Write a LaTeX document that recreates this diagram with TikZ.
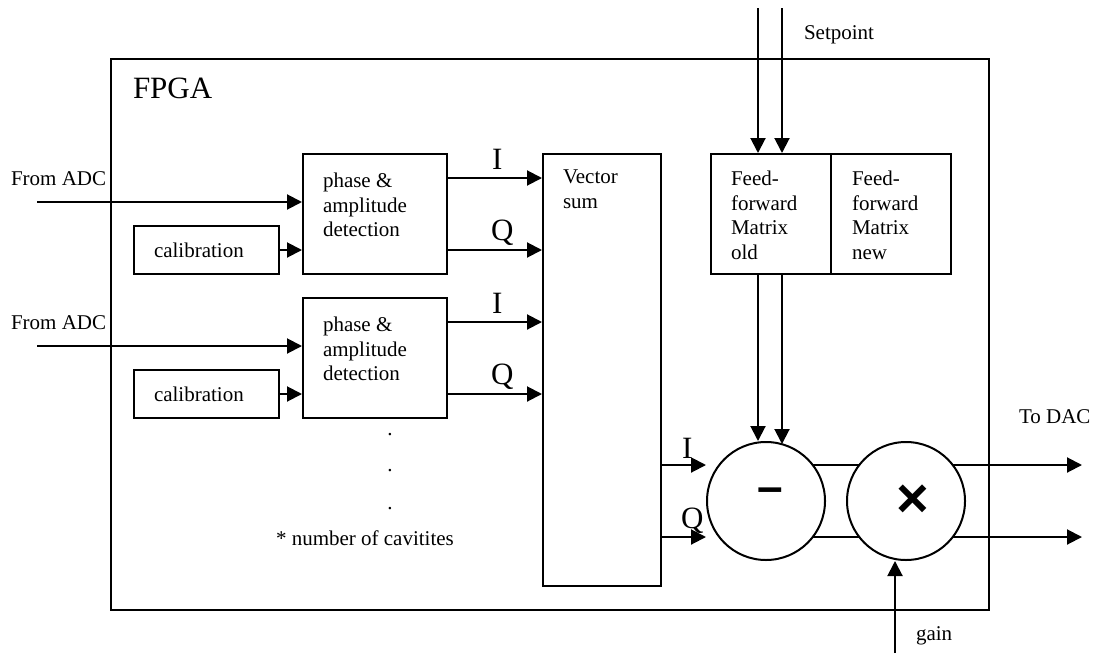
\documentclass[tikz,border=0pt]{standalone}
\usepackage{fontspec}
\setmainfont{Liberation Serif}
\newfontfamily\symfont{Liberation Sans}
\usetikzlibrary{arrows.meta,calc}
\begin{document}
\begin{tikzpicture}[x=1pt,y=-1pt,
  line width=2pt,
  arr/.style={-{Triangle[length=15pt,width=15pt]}},
  box/.style={draw, rectangle, inner sep=0pt, line width=2pt, anchor=north west},
  txt/.style={inner sep=0pt, font=\fontsize{21}{24.5}\selectfont, align=left},
  big/.style={inner sep=0pt, font=\fontsize{31}{36}\selectfont},
  calbox/.style={box, minimum height=48pt, text width=105pt, inner xsep=20pt, align=left, font=\fontsize{21}{25}\selectfont},
  op/.style={draw, circle, minimum size=118pt, inner sep=0pt},
  ]
\useasboundingbox (0,0) rectangle (1094,653);
% FPGA frame
\node[box, minimum width=878pt, minimum height=551pt] (fpga) at (110,58) {};
\node[big, anchor=base west] (fpgat) at (132,98) {FPGA};
% channel 1
\node[box, minimum width=144pt, minimum height=120pt] (p1) at (302,153) {};
\node[txt, anchor=north west] (p1t) at ($(p1.north west)+(20,19)$) {phase \&\\amplitude\\detection};
\node[calbox] (cal1) at (133,225) {calibration};
% channel 2
\node[box, minimum width=144pt, minimum height=120pt] (p2) at (302,297) {};
\node[txt, anchor=north west] (p2t) at ($(p2.north west)+(20,19)$) {phase \&\\amplitude\\detection};
\node[calbox] (cal2) at (133,369) {calibration};
% vector sum
\node[box, minimum width=118pt, minimum height=432pt] (vs) at (542,153) {};
\node[txt, anchor=north west] (vst) at ($(vs.north west)+(20,16)$) {Vector\\sum};
% feed-forward
\node[box, minimum width=120pt, minimum height=120pt] (ffo) at (710,153) {};
\node[box, minimum width=120pt, minimum height=120pt] (ffn) at (830,153) {};
\node[txt, anchor=north west] (ffot) at ($(ffo.north west)+(20,17)$) {Feed-\\forward\\Matrix\\old};
\node[txt, anchor=north west] (ffnt) at ($(ffn.north west)+(21,17)$) {Feed-\\forward\\Matrix\\new};
% operators
\node[op] (m1) at (766,501) {};
\node[op] (m2) at (906,501) {};
\node[inner sep=0pt, font=\symfont\bfseries\fontsize{46}{46}\selectfont] (minus) at (770,495) {–};
\node[inner sep=0pt, font=\symfont\bfseries\fontsize{56}{56}\selectfont] (times) at (913,501) {×};
% inputs from ADC
\coordinate (adc1) at (37,202);
\coordinate (adc2) at (37,346);
\draw[arr] (adc1) -- (adc1 -| p1.west);
\draw[arr] (adc2) -- (adc2 -| p2.west);
\node[txt, anchor=base west] (fa1) at (10,185) {From ADC};
\node[txt, anchor=base west] (fa2) at (10,329) {From ADC};
\draw[arr] (cal1.east) -- (cal1.east -| p1.west);
\draw[arr] (cal2.east) -- (cal2.east -| p2.west);
% I/Q to vector sum
\draw[arr] ($(p1.north east)+(0,25)$) coordinate (p1i) -- (p1i -| vs.west);
\draw[arr] ($(p1.north east)+(0,97)$) coordinate (p1q) -- (p1q -| vs.west);
\draw[arr] ($(p2.north east)+(0,25)$) coordinate (p2i) -- (p2i -| vs.west);
\draw[arr] ($(p2.north east)+(0,97)$) coordinate (p2q) -- (p2q -| vs.west);
\node[big, anchor=base west] (l1i) at (491,169) {I};
\node[big, anchor=base west] (l1q) at (490,240) {Q};
\node[big, anchor=base west] (l2i) at (491,313) {I};
\node[big, anchor=base west] (l2q) at (490,384) {Q};
% dots and note
\node[txt, anchor=base] (d1) at (390,435) {.};
\node[txt, anchor=base] (d2) at (390,471) {.};
\node[txt, anchor=base] (d3) at (390,509) {.};
\node[txt, anchor=base west] (note) at (275,545) {* number of cavitites};
% vector sum to subtractor
\coordinate (yi) at (0,465);
\coordinate (yq) at (0,537);
\draw[arr] (vs.east |- yi) -- (m1.west |- yi);
\draw[arr] (vs.east |- yq) -- (m1.west |- yq);
\node[big, anchor=base west] (l3i) at (681,458) {I};
\node[big, anchor=base west] (l3q) at (680,528) {Q};
% setpoint
\coordinate (sp1) at (758,8);
\coordinate (sp2) at (782,8);
\draw[arr] (sp1) -- (sp1 |- ffo.north);
\draw[arr] (sp2) -- (sp2 |- ffo.north);
\node[txt, anchor=base west] (spt) at (803,39) {Setpoint};
% feed-forward to subtractor
\draw[arr] (sp1 |- ffo.south) -- (sp1 |- m1.north);
\draw[arr] (sp2 |- ffo.south) -- ($(m1.center)+(16,-57)$);
% between operators
\draw ($(m1.center)+(46.7,-36)$) -- ($(m2.center)+(-46.7,-36)$);
\draw ($(m1.center)+(46.7,36)$) -- ($(m2.center)+(-46.7,36)$);
% outputs
\coordinate (dac1) at (1082,465);
\coordinate (dac2) at (1082,537);
\draw[arr] ($(m2.center)+(46.7,-36)$) -- (dac1);
\draw[arr] ($(m2.center)+(46.7,36)$) -- (dac2);
\node[txt, anchor=base west] (dact) at (1018,423) {To DAC};
% gain
\coordinate (g0) at (895,653);
\draw[arr] (g0) -- (g0 |- m2.south);
\node[txt, anchor=base west] (gt) at (915,640) {gain};
\end{tikzpicture}
\end{document}
